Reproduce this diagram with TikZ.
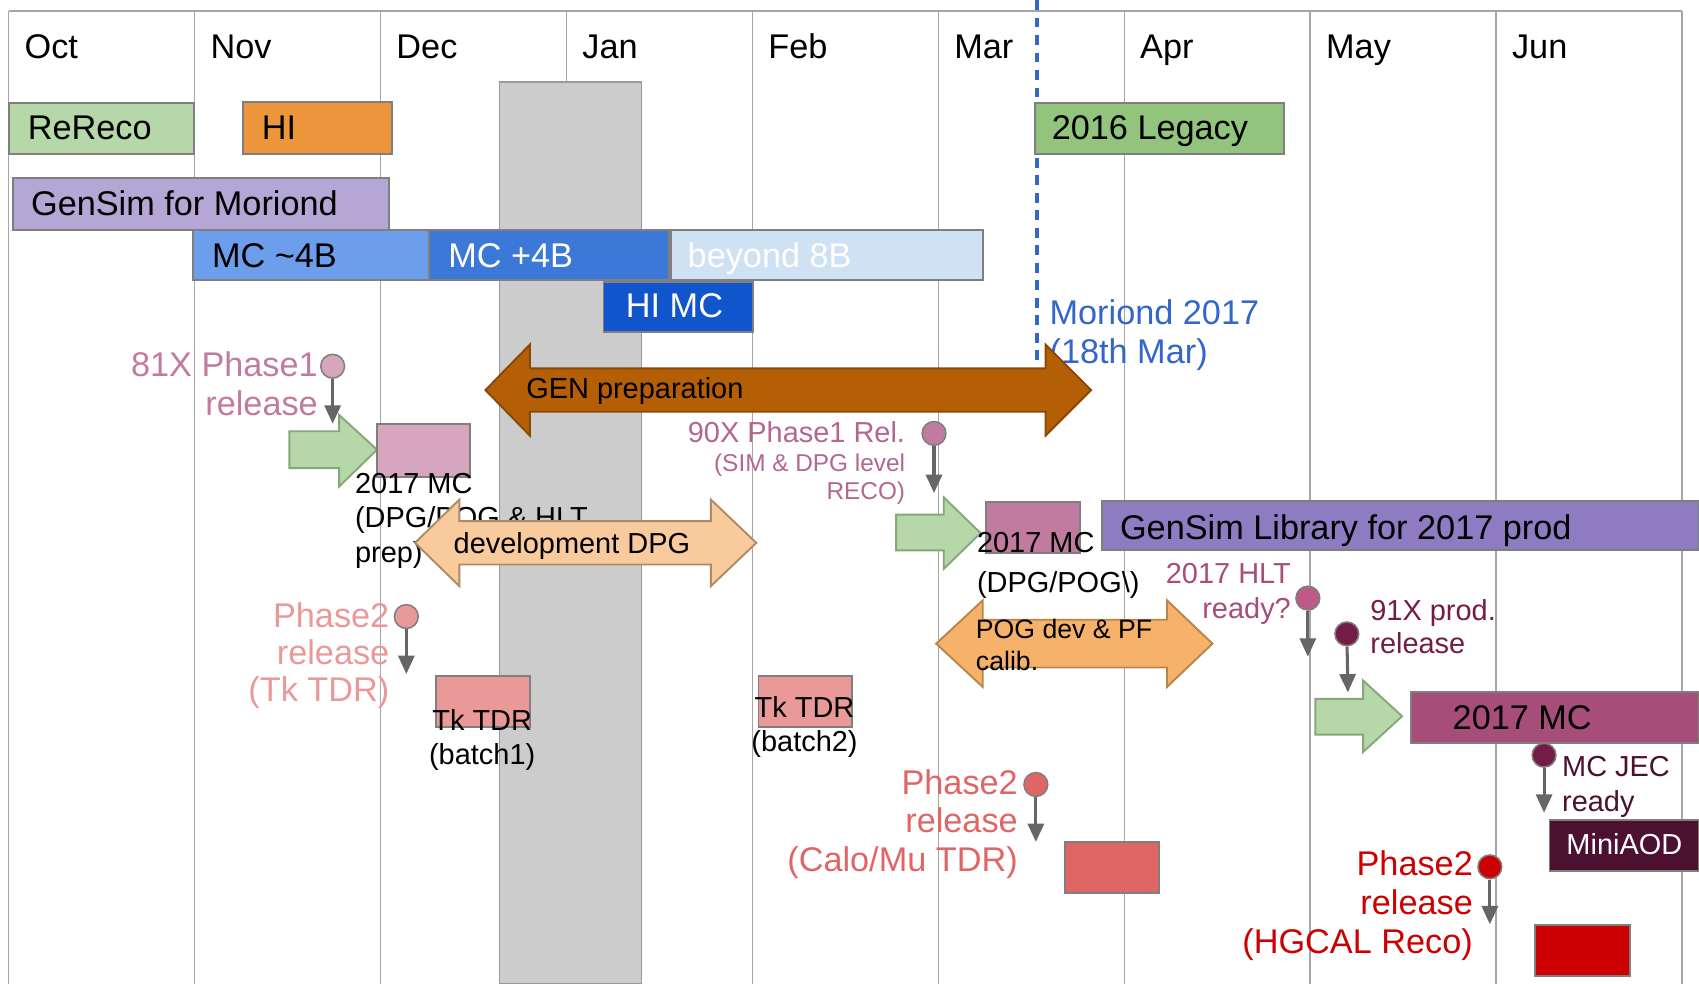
\documentclass[tikz,border=0pt]{standalone}
\usepackage{fontspec}
\setmainfont{Liberation Sans}
\usetikzlibrary{arrows.meta}
\definecolor{cGrid}{HTML}{A6A6A6}
\definecolor{cEdge}{HTML}{7F7F7F}
\definecolor{cShade}{HTML}{CCCCCC}
\definecolor{cShadeD}{HTML}{999999}
\definecolor{cReReco}{HTML}{B6D7A8}
\definecolor{cHI}{HTML}{EC953A}
\definecolor{cLegacy}{HTML}{93C47D}
\definecolor{cGenSim}{HTML}{B4A7D6}
\definecolor{cMCa}{HTML}{6D9EEB}
\definecolor{cMCb}{HTML}{3C78D8}
\definecolor{cBeyond}{HTML}{CFE2F3}
\definecolor{cHIMC}{HTML}{1155CC}
\definecolor{cMoriond}{HTML}{3366CC}
\definecolor{cGen}{HTML}{B45F06}
\definecolor{cGenD}{HTML}{8A4806}
\definecolor{cDev}{HTML}{F9CB9C}
\definecolor{cDevD}{HTML}{B08A66}
\definecolor{cPog}{HTML}{F6B26B}
\definecolor{cPogD}{HTML}{B98548}
\definecolor{cGreenA}{HTML}{B6D7A8}
\definecolor{cGreenD}{HTML}{86A878}
\definecolor{cPinkA}{HTML}{D5A6BD}
\definecolor{cPinkB}{HTML}{C27BA0}
\definecolor{cRel90}{HTML}{B3668F}
\definecolor{cHLT}{HTML}{BD5A87}
\definecolor{cMagA}{HTML}{A64D79}
\definecolor{cMagB}{HTML}{741B47}
\definecolor{cMagC}{HTML}{4C1130}
\definecolor{cLib}{HTML}{8E7CC3}
\definecolor{cSalmA}{HTML}{EA9999}
\definecolor{cSalmB}{HTML}{E06666}
\definecolor{cRed}{HTML}{CC0000}
\definecolor{cArrow}{HTML}{666666}
\newcommand{\fBig}{\fontsize{9}{10.2}\selectfont}
\newcommand{\fMid}{\fontsize{7.6}{9.1}\selectfont}
\tikzset{
  gridline/.style = {cGrid, line width=0.4pt},
  holiday/.style  = {fill=cShade, draw=cShadeD, line width=0.5pt},
  deadline/.style = {cMoriond, line width=1pt, dash pattern=on 2.6pt off 2pt},
  bar/.style      = {draw=cEdge, line width=0.5pt},
  lbl/.style      = {inner sep=0pt, anchor=base west, font=\fBig},
  month/.style    = {lbl},
  note/.style     = {inner sep=0pt, font=\fBig},
  blockarr/.style = {line width=0.5pt, line join=miter},
  relpin/.style   = {circle, draw=cEdge, line width=0.4pt, minimum size=2.2mm, inner sep=0pt},
  relarr/.style   = {cArrow, line width=0.8pt, -{Triangle[width=4.2pt,length=4.8pt]}},
}

\begin{document}
\begin{tikzpicture}[x=0.1mm, y=-0.1mm]
  \useasboundingbox (0,0) rectangle (1568,908);
  % month grid
  \draw[gridline] (8,10) -- (1552,10);
  \foreach \i in {0,...,9}
    \draw[gridline] ({8+171.6*\i},10) -- ({8+171.6*\i},908);
  \foreach \m [count=\i from 0] in {Oct,Nov,Dec,Jan,Feb,Mar,Apr,May,Jun}
    \node[month] (m\m) at ({22+171.6*\i},54) {\m};
  % end-of-year shutdown
  \draw[holiday] (461,76) rectangle (592,908);
  % Moriond deadline
  \draw[deadline] (957,0) -- (957,337);

  % production rows
  \draw[bar, fill=cReReco] (8,95) rectangle (179,142);
  \node[lbl] (rereco) at (25,129) {ReReco};
  \draw[bar, fill=cHI] (224,94) rectangle (362,142);
  \node[lbl] (hi) at (241,129) {HI};
  \draw[bar, fill=cLegacy] (955,95) rectangle (1185,142);
  \node[lbl] (legacy) at (970,129) {2016 Legacy};
  \draw[bar, fill=cGenSim] (12,164) rectangle (359,212);
  \node[lbl] (gensim) at (28,199) {GenSim for Moriond};
  \draw[bar, fill=cMCa] (178,212) rectangle (396,258);
  \node[lbl] (mca) at (195,246.5) {MC \textasciitilde4B};
  \draw[bar, fill=cMCb] (396,212) rectangle (617,258);
  \node[lbl, text=white] (mcb) at (413,246.5) {MC +4B};
  \draw[bar, fill=cBeyond] (619,212) rectangle (907,258);
  \node[lbl, text=white] (beyond) at (634,246.5) {beyond 8B};
  \draw[bar, fill=cHIMC] (557,260) rectangle (695,306);
  \node[lbl, text=white] (himc) at (577,293) {HI MC};

  % Moriond date
  \node[note, text=cMoriond, anchor=west, align=left] (moriond) at (968,309) {Moriond 2017\\(18th Mar)};

  % GEN preparation
  \draw[blockarr, fill=cGen, draw=cGenD] (448,360) -- (489,318) -- (489,340) -- (965,340) -- (965,318)
    -- (1007,360) -- (965,402) -- (965,380) -- (489,380) -- (489,402) -- cycle;
  \node[lbl, font=\fMid] (genprep) at (485,368) {GEN preparation};

  % first 2017 MC (DPG/POG & HLT prep)
  \draw[blockarr, fill=cGreenA, draw=cGreenD] (267,398) -- (313,398) -- (313,383) -- (348,415)
    -- (313,449) -- (313,432) -- (267,432) -- cycle;
  \draw[bar, fill=cPinkA] (348,391) rectangle (434,440);
  \node[note, font=\fMid, anchor=west, align=left] (mcprep) at (327,480.5) {2017 MC\\(DPG/POG \& HLT\\prep)};
  \draw[blockarr, fill=cDev, draw=cDevD] (383,501) -- (424,461) -- (424,481) -- (656,481) -- (656,461)
    -- (698,501) -- (656,541) -- (656,521) -- (424,521) -- (424,541) -- cycle;
  \node[lbl, font=\fMid] (devdpg) at (418,511) {development DPG};

  % 81X Phase1 release
  \node[note, text=cPinkB, anchor=east, align=right] (t81) at (294,354) {81X Phase1\\release};
  \node[relpin, fill=cPinkA] (c81) at (307,338) {};
  \coordinate (e81) at (307,391);
  \draw[relarr] (c81) -- (e81);

  % 90X Phase1 release
  \node[inner sep=0pt, font=\fMid, text=cRel90, anchor=base east] (t90) at (836,408) {90X Phase1 Rel.};
  \node[inner sep=0pt, font=\fontsize{6.4}{7.4}\selectfont, text=cRel90, anchor=east, align=right] (t90b)
    at (836,442) {(SIM \& DPG level\\RECO)};
  \node[relpin, fill=cPinkB] (c90) at (862,400) {};
  \coordinate (e90) at (862,455);
  \draw[relarr] (c90) -- (e90);

  % second 2017 MC (DPG/POG)
  \draw[blockarr, fill=cGreenA, draw=cGreenD] (827,475) -- (871,475) -- (871,459) -- (905,492)
    -- (871,525) -- (871,508) -- (827,508) -- cycle;
  \draw[bar, fill=cPinkB] (910,463) rectangle (997,510);
  \node[note, font=\fontsize{7.6}{10.4}\selectfont, anchor=west, align=left] (mcdpg) at (901,522)
    {2017 MC\\(DPG/POG\textbackslash)};
  \draw[bar, fill=cLib] (1017,462) rectangle (1568,508);
  \node[lbl] (library) at (1033,497.5) {GenSim Library for 2017 prod};

  % POG dev & PF calib
  \draw[blockarr, fill=cPog, draw=cPogD] (864,594) -- (907,554) -- (907,572) -- (1077,572) -- (1077,554)
    -- (1119,594) -- (1077,634) -- (1077,616) -- (907,616) -- (907,634) -- cycle;
  \node[note, font=\fontsize{7}{8.5}\selectfont, anchor=west, align=left] (pogdev) at (900,595)
    {POG dev \& PF\\calib.};

  % Phase2 release (Tk TDR)
  \node[note, text=cSalmA, anchor=east, align=right, font=\fontsize{9}{9.8}\selectfont] (ttk) at (360,605)
    {Phase2\\release\\(Tk TDR)};
  \node[relpin, fill=cSalmA] (ctk) at (375,569) {};
  \coordinate (etk) at (375,622);
  \draw[relarr] (ctk) -- (etk);
  \draw[bar, fill=cSalmA] (402,624) rectangle (489,671);
  \node[note, font=\fMid, align=center] (tkone) at (445,683) {Tk TDR\\(batch1)};
  \draw[bar, fill=cSalmA] (700,624) rectangle (786,671);
  \node[note, font=\fMid, align=center] (tktwo) at (742.5,671) {Tk TDR\\(batch2)};

  % 2017 HLT ready?
  \node[note, font=\fMid, text=cMagA, anchor=east, align=right] (thlt) at (1192,548) {2017 HLT\\ready?};
  \node[relpin, fill=cHLT] (chlt) at (1207,552) {};
  \coordinate (ehlt) at (1207,606);
  \draw[relarr] (chlt) -- (ehlt);

  % 91X prod. release
  \node[note, font=\fontsize{7.6}{8.6}\selectfont, text=cMagB, anchor=west, align=left] (t91) at (1264,578)
    {91X prod.\\release};
  \node[relpin, fill=cMagB] (c91) at (1243,585) {};
  \coordinate (e91) at (1244,639);
  \draw[relarr] (c91) -- (e91);

  % 2017 MC production
  \draw[blockarr, fill=cGreenA, draw=cGreenD] (1214,645) -- (1258,645) -- (1258,628) -- (1294,661)
    -- (1258,694) -- (1258,678) -- (1214,678) -- cycle;
  \draw[bar, fill=cMagA] (1302,639) rectangle (1568,686);
  \node[lbl] (mcprod) at (1340,673.5) {2017 MC};

  % MC JEC ready
  \node[note, font=\fMid, text=cMagC, anchor=west, align=left] (tjec) at (1441,726) {MC JEC\\ready};
  \node[relpin, fill=cMagB] (cjec) at (1425,697) {};
  \coordinate (ejec) at (1425,750);
  \draw[relarr] (cjec) -- (ejec);
  \draw[bar, fill=cMagC] (1430,757) rectangle (1568,804);
  \node[lbl, font=\fMid, text=white] (miniaod) at (1445,788.5) {MiniAOD};

  % Phase2 release (Calo/Mu TDR)
  \node[note, text=cSalmB, anchor=east, align=right, font=\fontsize{9}{10.1}\selectfont] (tcalo) at (940,760.5)
    {Phase2\\release\\(Calo/Mu TDR)};
  \node[relpin, fill=cSalmB] (ccalo) at (956,724) {};
  \coordinate (ecalo) at (956,777);
  \draw[relarr] (ccalo) -- (ecalo);
  \draw[bar, fill=cSalmB] (983,777) rectangle (1070,824);

  % Phase2 release (HGCAL Reco)
  \node[note, text=cRed, anchor=east, align=right] (thgcal) at (1360,836)
    {Phase2\\release\\(HGCAL Reco)};
  \node[relpin, fill=cRed] (chgcal) at (1375,800) {};
  \coordinate (ehgcal) at (1375,853);
  \draw[relarr] (chgcal) -- (ehgcal);
  \draw[bar, fill=cRed] (1417,854) rectangle (1504,901);
\end{tikzpicture}
\end{document}
